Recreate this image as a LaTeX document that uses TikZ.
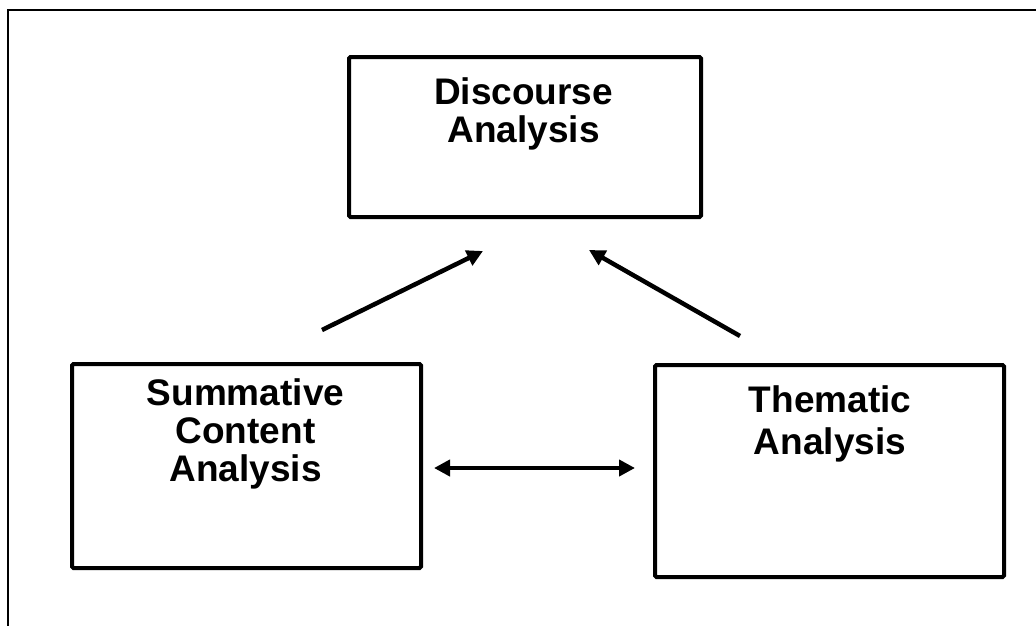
\documentclass[tikz,border=0pt]{standalone}
\usepackage{fontspec}
\setmainfont{Liberation Sans}
\usetikzlibrary{arrows.meta}
\tikzset{
  box/.style={draw=black, line width=4pt, rounded corners=1.5pt, fill=white, inner sep=0pt, anchor=north west},
  lbl/.style={inner sep=0pt, anchor=north, align=center, font=\fontsize{37}{38}\selectfont\bfseries},
  lblwide/.style={lbl, font=\fontsize{37}{42}\selectfont\bfseries},
  arr/.style={line width=4.5pt, -{Triangle[length=16pt,width=16pt]}},
  darr/.style={line width=4.5pt, {Triangle[length=16pt,width=16pt]}-{Triangle[length=16pt,width=16pt]}},
  frame/.style={line width=2pt, draw=black}
}
\begin{document}
\begin{tikzpicture}[x=1pt,y=-1pt]
\useasboundingbox (0,0) rectangle (1036,625);
% outer frame (only top and left edges visible)
\coordinate (fbl) at (8,630);
\coordinate (ftl) at (8,10);
\coordinate (ftr) at (1040,10);
\draw[frame] (fbl) -- (ftl) -- (ftr);
% boxes
\node[box, minimum width=352pt, minimum height=160pt] (disc) at (347,55) {};
\node[box, minimum width=349pt, minimum height=204pt] (summ) at (70,362) {};
\node[box, minimum width=349pt, minimum height=212pt] (them) at (653,363) {};
% labels
\node[lbl] (disct) at (523.5,77) {Discourse\\Analysis};
\node[lbl] (summt) at (245.5,378) {Summative\\Content\\Analysis};
\node[lblwide] (themt) at (830,385) {Thematic\\Analysis};
% arrows
\coordinate (a1s) at (322,330);
\coordinate (a1e) at (483,251);
\coordinate (a2s) at (740,336);
\coordinate (a2e) at (589,250);
\coordinate (a3s) at (434,468);
\coordinate (a3e) at (635,468);
\draw[arr] (a1s) -- (a1e);
\draw[arr] (a2s) -- (a2e);
\draw[darr] (a3s) -- (a3e);
\end{tikzpicture}
\end{document}
